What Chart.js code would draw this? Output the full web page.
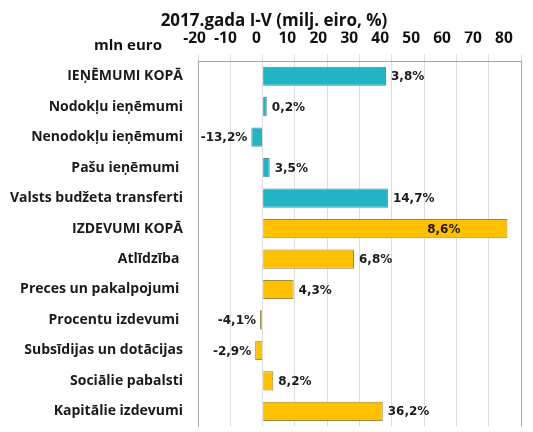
<!DOCTYPE html>
<html>
<head>
<meta charset="utf-8">
<script src="https://cdn.jsdelivr.net/npm/chart.js@4/dist/chart.umd.min.js"></script>
<style>
  html, body { margin: 0; padding: 0; background: #fff; overflow: hidden; width: 533px; height: 432px; }
  #wrap { position: relative; width: 533px; height: 432px; overflow: hidden; }
  canvas { position: absolute; left: 0; top: 0; }
</style>
</head>
<body>
<div id="wrap"><canvas id="chartBudzets" width="533" height="450"></canvas></div>
<script>
const categories = [
  'IEŅĒMUMI KOPĀ', 'Nodokļu ieņēmumi', 'Nenodokļu ieņēmumi', 'Pašu ieņēmumi ',
  'Valsts budžeta transferti', 'IZDEVUMI KOPĀ', 'Atlīdzība ', 'Preces un pakalpojumi ',
  'Procentu izdevumi ', 'Subsīdijas un dotācijas', 'Sociālie pabalsti', 'Kapitālie izdevumi'
];
const values = [38.2, 1.3, -3.5, 2.2, 38.8, 75.8, 28.3, 9.6, -0.8, -2.3, 3.3, 37.2];
const pctLabels = ['3,8%', '0,2%', '-13,2%', '3,5%', '14,7%', '8,6%', '6,8%', '4,3%', '-4,1%', '-2,9%', '8,2%', '36,2%'];
const sections = ['ien', 'ien', 'ien', 'ien', 'ien', 'izd', 'izd', 'izd', 'izd', 'izd', 'izd', 'izd'];
const tickValues = [-20, -10, 0, 10, 20, 30, 40, 50, 60, 70, 80];
const titleText = '2017.gada I-V (milj. eiro, %)';

const TEAL = '#21b4c5', YELLOW = '#ffc000';
const FONT = '"Open Sans"';

const labelsPlugin = {
  id: 'pctLabels',
  afterDatasetsDraw(chart) {
    const ctx = chart.ctx;
    const meta = chart.getDatasetMeta(0);
    ctx.save();
    ctx.font = 'bold 12px "DejaVu Sans"';
    ctx.fillStyle = '#1a1a1a';
    ctx.textBaseline = 'middle';
    meta.data.forEach((bar, i) => {
      const v = values[i];
      if (i === 5) {
        ctx.textAlign = 'right';
        ctx.fillText(pctLabels[i], bar.x - 47, bar.y + 1);
      } else if (v < 0) {
        ctx.textAlign = 'right';
        ctx.fillText(pctLabels[i], bar.x - 4, bar.y + 1);
      } else {
        ctx.textAlign = 'left';
        ctx.fillText(pctLabels[i], bar.x + 5, bar.y + 1);
      }
    });
    // title + mln euro caption
    ctx.fillStyle = '#111';
    ctx.textAlign = 'center';
    ctx.font = 'bold 17px ' + FONT;
    ctx.fillText(titleText, 274, 21);
    ctx.font = 'bold 15px ' + FONT;
    ctx.fillText('mln euro', 128, 46);
    // right border of plot
    const a = chart.chartArea;
    ctx.strokeStyle = '#a6a6a6';
    ctx.lineWidth = 1;
    ctx.beginPath();
    ctx.moveTo(Math.round(a.right) + 0.5, a.top);
    ctx.lineTo(Math.round(a.right) + 0.5, a.bottom);
    ctx.stroke();
    ctx.restore();
  }
};

new Chart(document.getElementById('chartBudzets').getContext('2d'), {
  type: 'bar',
  data: {
    labels: categories,
    datasets: [{
      data: values,
      backgroundColor: sections.map(s => s === 'ien' ? TEAL : YELLOW),
      borderColor: sections.map(s => s === 'ien' ? '#5e8d96' : '#9d8848'),
      borderWidth: 1,
      barPercentage: 0.63,
      categoryPercentage: 1
    }]
  },
  options: {
    indexAxis: 'y',
    responsive: false,
    animation: false,
    layout: { padding: { top: 31.6, right: 12, bottom: 11, left: 0 } },
    plugins: {
      legend: { display: false },
      tooltip: { enabled: false },
      title: { display: false }
    },
    scales: {
      x: {
        position: 'top',
        min: -20, max: 80,
        weight: 0,
        ticks: { display: false, stepSize: 10 },
        grid: { color: '#dedede', tickLength: 7, drawTicks: true },
        border: { display: true, color: '#a6a6a6' },
        afterFit(scale) { scale.height = 7; }
      },
      xLabels: {
        type: 'linear',
        axis: 'x',
        position: 'top',
        weight: 1,
        min: -18.87, max: 85.5,
        grid: { display: false, drawTicks: false },
        border: { display: false },
        afterBuildTicks(scale) { scale.ticks = tickValues.map(v => ({ value: v })); },
        ticks: {
          color: '#111',
          padding: 6,
          maxRotation: 0,
          autoSkip: false,
          font: { family: FONT, size: 15.5, weight: 'bold' }
        },
        afterFit(scale) { scale.height = 22.4; }
      },
      y: {
        grid: { display: false, drawTicks: false },
        border: { display: true, color: '#a6a6a6' },
        ticks: {
          color: '#1a1a1a',
          padding: 15,
          autoSkip: false,
          font: { family: FONT, size: 14, weight: 'bold' }
        },
        afterFit(scale) { scale.width = 198; }
      }
    }
  },
  plugins: [labelsPlugin]
});
</script>
</body>
</html>
